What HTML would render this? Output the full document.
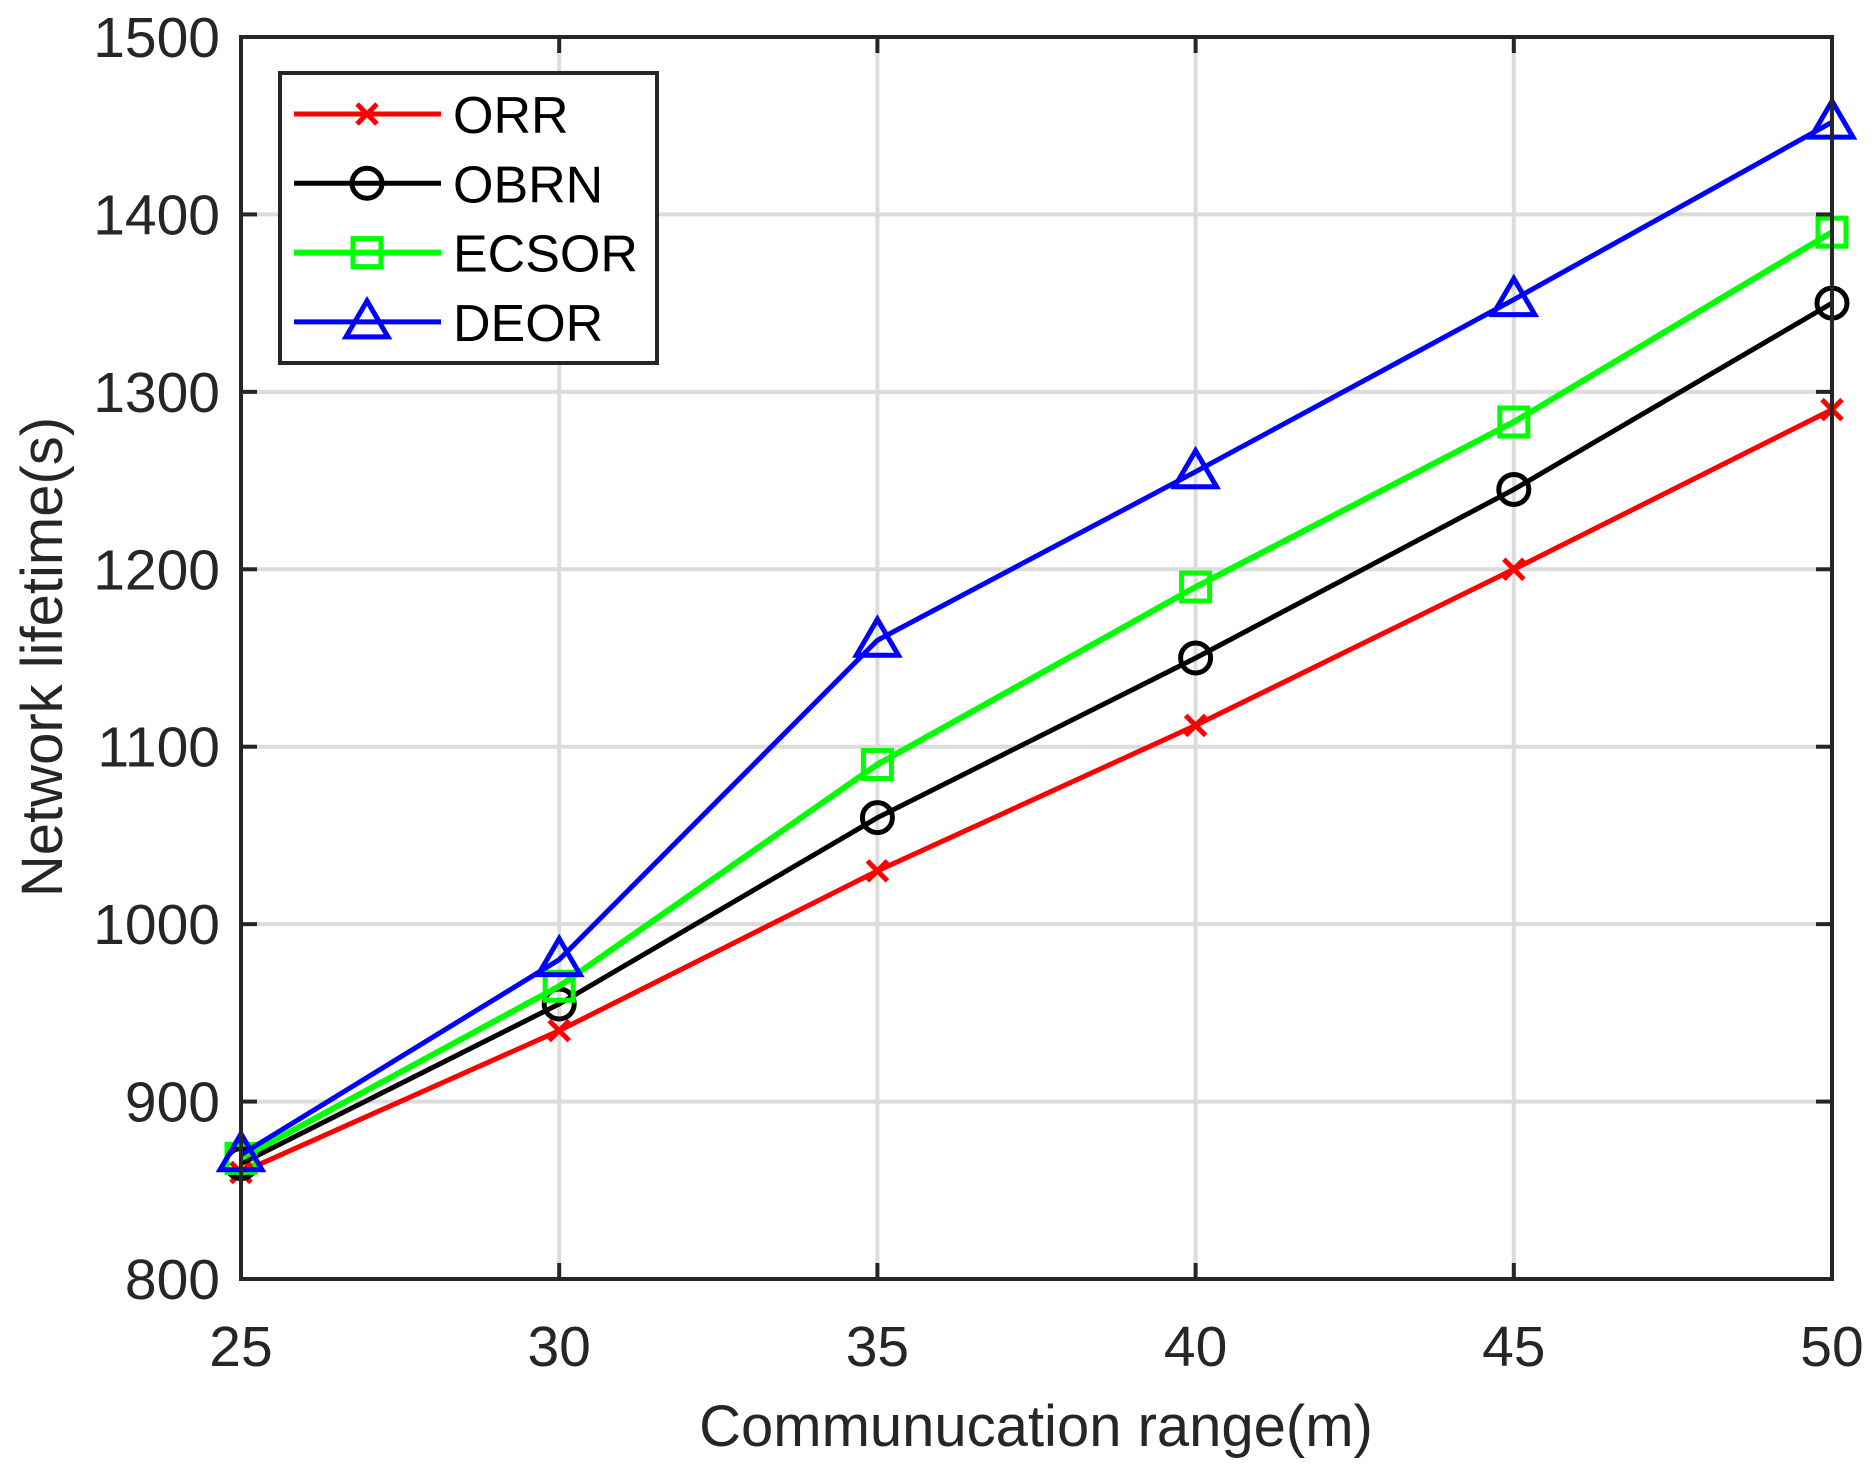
<!DOCTYPE html>
<html><head><meta charset="utf-8"><style>
html,body{margin:0;padding:0;background:#fff;}
svg{display:block;font-family:"Liberation Sans",Arial,sans-serif;}
</style></head><body>
<svg id="chart" width="1872" height="1468" viewBox="0 0 1872 1468" xmlns="http://www.w3.org/2000/svg">
<g id="grid"></g>
<g id="series"></g>
<rect x="241" y="37" width="1591" height="1242" fill="none" stroke="#262626" stroke-width="4"/>
<g id="ticks"></g>
<text x="1036" y="1446" font-size="58" text-anchor="middle" fill="#262626">Communucation range(m)</text>
<text transform="translate(62,657) rotate(-90)" font-size="58" text-anchor="middle" fill="#262626">Network lifetime(s)</text>
<g id="legend">
<rect x="280" y="73" width="377" height="290" fill="#fff" stroke="#262626" stroke-width="4"/>
</g>
</svg>
<script>
const categories=[25,30,35,40,45,50];
const seriesNames=["ORR","OBRN","ECSOR","DEOR"];
const orr=[860,940,1030,1112,1200,1290];
const obrn=[865,955,1060,1150,1245,1350];
const ecsor=[868,965,1090,1190,1283,1390];
const deor=[870,980,1160,1255,1352,1452];
const yTicks=[800,900,1000,1100,1200,1300,1400,1500];
const xTicks=[25,30,35,40,45,50];

const NS="http://www.w3.org/2000/svg";
const L=241,R=1832,T=37,B=1279;
function xs(v){return L+(v-25)/(50-25)*(R-L);}
function ys(v){return B-(v-800)/(1500-800)*(B-T);}
function mk(tag,attrs,parent){const e=document.createElementNS(NS,tag);for(const k in attrs)e.setAttribute(k,attrs[k]);parent.appendChild(e);return e;}
const grid=document.getElementById('grid'),ticks=document.getElementById('ticks'),ser=document.getElementById('series'),leg=document.getElementById('legend');
yTicks.forEach(v=>{
 const y=ys(v);
 const g=mk('line',{x1:L,x2:R,y1:y,y2:y,stroke:'#dcdcdc','stroke-width':4},grid);
 
 
 const t1=mk('line',{x1:L,x2:L+16,y1:y,y2:y,stroke:'#262626','stroke-width':4},ticks);
 
 
 const t2=mk('line',{x1:R,x2:R-16,y1:y,y2:y,stroke:'#262626','stroke-width':4},ticks);
 
 
 const tx=mk('text',{x:220,y:y+20,'font-size':57,'text-anchor':'end',fill:'#262626'},ticks);
 tx.textContent=v;
 
 
});
xTicks.forEach(v=>{
 const x=xs(v);
 const g=mk('line',{x1:x,x2:x,y1:T,y2:B,stroke:'#dcdcdc','stroke-width':4},grid);
 
 
 const t1=mk('line',{x1:x,x2:x,y1:B,y2:B-16,stroke:'#262626','stroke-width':4},ticks);
 
 
 const t2=mk('line',{x1:x,x2:x,y1:T,y2:T+16,stroke:'#262626','stroke-width':4},ticks);
 
 
 const tx=mk('text',{x:x,y:1366,'font-size':57,'text-anchor':'middle',fill:'#262626'},ticks);
 tx.textContent=v;
 
 
});
const colors=['#ff0000','#000000','#00ff00','#0000ff'];
const kinds=['x','o','s','t'];
function marker(kind,x,y,c,parent){
 let e;
 if(kind==='x'){e=mk('path',{d:`M${x-10} ${y-10}L${x+10} ${y+10}M${x-10} ${y+10}L${x+10} ${y-10}`,stroke:c,'stroke-width':5,fill:'none'},parent);}
 else if(kind==='o'){e=mk('circle',{cx:x,cy:y,r:15,stroke:c,'stroke-width':5,fill:'none'},parent);}
 else if(kind==='s'){e=mk('rect',{x:x-14,y:y-14,width:28,height:28,stroke:c,'stroke-width':5,fill:'none'},parent);}
 else {e=mk('path',{d:`M${x} ${y-21}L${x+21} ${y+15}L${x-21} ${y+15}Z`,stroke:c,'stroke-width':5,fill:'none'},parent);}
 return e;
}
[orr,obrn,ecsor,deor].forEach((arr,i)=>{
 const g=mk('g',{},ser);
 
 
 const pts=arr.map((v,j)=>xs(categories[j])+','+ys(v)).join(' ');
 const pl=mk('polyline',{points:pts,fill:'none',stroke:colors[i],'stroke-width':i===2?6:5},g);
 
 
 arr.forEach((v,j)=>{
  const m=marker(kinds[i],xs(categories[j]),ys(v),colors[i],g);
  
  
 });
 const ly=114+i*69.3;
 const lg=mk('g',{},leg);
 
 
 mk('line',{x1:294,x2:441,y1:ly,y2:ly,stroke:colors[i],'stroke-width':i===2?6:5},lg);
 marker(kinds[i],367,ly,colors[i],lg);
 const t=mk('text',{x:453,y:ly+19,'font-size':52,fill:'#000'},lg);
 t.textContent=seriesNames[i];
});
</script>
</body></html>
